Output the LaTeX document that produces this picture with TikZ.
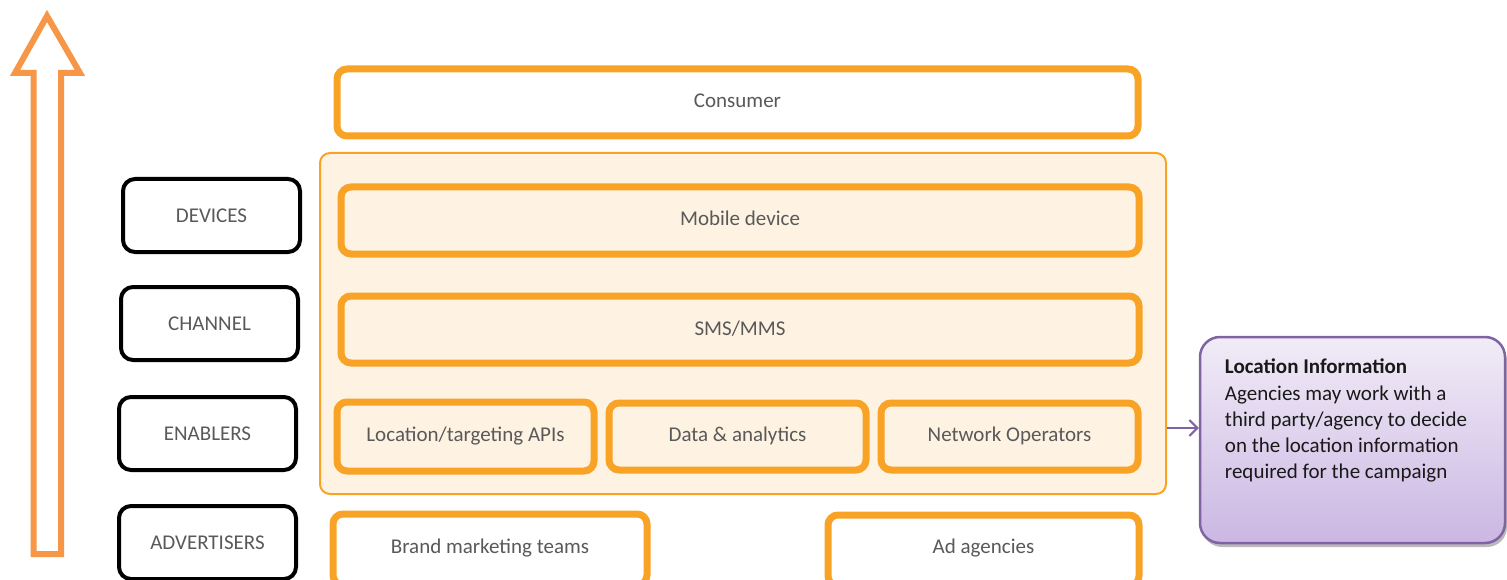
\documentclass[tikz,border=0pt]{standalone}
\usepackage{fontspec}
\setmainfont{Carlito}
\usetikzlibrary{shadows,arrows.meta}
\definecolor{orng}{HTML}{F8A325}
\definecolor{arrowor}{HTML}{F79646}
\definecolor{cream}{HTML}{FEF3E3}
\definecolor{txtgray}{HTML}{595959}
\definecolor{purpborder}{HTML}{8064A2}
\definecolor{purptop}{HTML}{F1ECF7}
\definecolor{purpbot}{HTML}{CBB7E3}
\tikzset{
  obox/.style={draw=orng, line width=7pt, rounded corners=10pt, text=txtgray, inner sep=0pt},
  kbox/.style={draw=black, line width=4pt, rounded corners=12pt, text=txtgray, inner sep=0pt},
  basefont/.style={font=\fontsize{21}{26}\selectfont}
}
\begin{document}
\begin{tikzpicture}[x=1pt,y=-1pt, basefont]
\useasboundingbox (0,0) rectangle (1507,580);
% big up arrow
\draw[arrowor, line width=6pt, line join=miter]
  (47,16) -- (80,73) -- (61,73) -- (61,554) -- (33.5,554) -- (33.5,73) -- (15,73) -- cycle;
% container
\node[draw=orng, fill=cream, line width=2pt, rounded corners=10pt, minimum width=846, minimum height=341, inner sep=0pt] (container) at (743,323.5) {};
% top
\node[obox, fill=white, minimum width=801, minimum height=67] (consumer) at (737.5,102.5) {\raisebox{4pt}{Consumer}};
\node[obox, fill=cream, minimum width=798, minimum height=67] (mobile) at (740,220.5) {\raisebox{4pt}{Mobile device}};
\node[obox, fill=cream, minimum width=798, minimum height=67] (sms) at (740,329.5) {\raisebox{3pt}{SMS/MMS}};
\node[obox, fill=cream, minimum width=257, minimum height=69] (loc) at (465.5,436.5) {\raisebox{4pt}{Location/targeting APIs}};
\node[obox, fill=cream, minimum width=257, minimum height=67] (data) at (737.5,436.5) {\raisebox{4pt}{Data \& analytics}};
\node[obox, fill=cream, minimum width=257, minimum height=67] (nops) at (1009.5,436.5) {\raisebox{4pt}{Network Operators}};
\node[obox, fill=white, minimum width=314, minimum height=71] (brand) at (490,549.5) {\raisebox{7pt}{Brand marketing teams}};
\node[obox, fill=white, minimum width=311, minimum height=71] (adag) at (983.5,550.5) {\raisebox{8pt}{Ad agencies}};
% left labels
\node[kbox, minimum width=177, minimum height=73] (devices) at (211.5,215.5) {\raisebox{-2pt}{DEVICES}};
\node[kbox, minimum width=177, minimum height=73] (channel) at (209.5,323.5) {\raisebox{-2pt}{CHANNEL}};
\node[kbox, minimum width=177, minimum height=73] (enablers) at (207.5,433.5) {\raisebox{-2pt}{ENABLERS}};
\node[kbox, minimum width=177, minimum height=73] (advert) at (207.5,542.5) {\raisebox{-1pt}{ADVERTISERS}};
% purple callout
\node[draw=purpborder, line width=2.5pt, rounded corners=20pt, top color=purptop, bottom color=purpbot,
  drop shadow={opacity=0.45, shadow xshift=2pt, shadow yshift=-4pt, fill=black!60},
  minimum width=305, minimum height=206, inner sep=0pt] (purple) at (1352.5,440) {};
\node[anchor=north west, align=left, inner sep=0pt, text=black!90, font=\fontsize{21}{26.3}\selectfont] (ptext) at ([xshift=26pt,yshift=-23pt]purple.north west)
  {\textbf{Location Information}\\Agencies may work with a\\third party/agency to decide\\on the location information\\required for the campaign};
\draw[-{Straight Barb[length=8pt,width=16pt]}, draw=purpborder, line width=2pt] (container.east |- 0,428) -- (purple.west |- 0,428);
\end{tikzpicture}
\end{document}
